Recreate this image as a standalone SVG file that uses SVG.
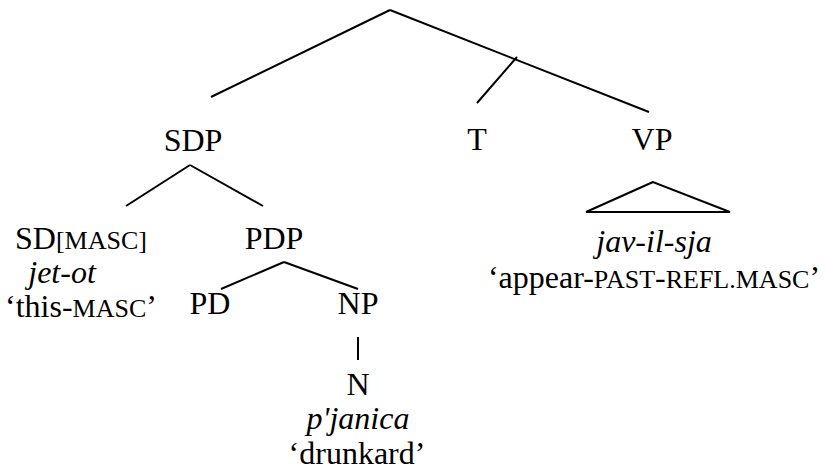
<svg xmlns="http://www.w3.org/2000/svg" width="826" height="475" viewBox="0 0 826 475">
<style>
.e{stroke:#000;stroke-width:2;fill:none}
.sc{font-size:26px}
</style>
<rect width="826" height="475" fill="#fff"/>
<g id="connectors">
<line class="e" x1="390" y1="10" x2="211" y2="97"/>
<line class="e" x1="390" y1="10" x2="649" y2="112"/>
<line class="e" x1="517" y1="57" x2="477" y2="103"/>
<line class="e" x1="190" y1="165" x2="126" y2="206"/>
<line class="e" x1="190" y1="165" x2="263" y2="206"/>
<line class="e" x1="284" y1="262" x2="221" y2="289"/>
<line class="e" x1="284" y1="262" x2="358" y2="289"/>
<line class="e" x1="358" y1="337" x2="358" y2="360"/>
<polygon class="e" points="653,182 586,212 730,212"/>
</g>
<g font-family="Liberation Serif, Times New Roman, serif" font-size="32" fill="#000">
<g id="SDP"><text x="193" y="151" text-anchor="middle">SDP</text></g>
<g id="T"><text x="477" y="150" text-anchor="middle">T</text></g>
<g id="VP"><text x="652" y="150" text-anchor="middle">VP</text>
<text font-style="italic" x="654" y="252" text-anchor="middle">jav-il-sja</text>
<text x="654" y="288" text-anchor="middle">‘appear-<tspan class="sc">PAST</tspan>-<tspan class="sc">REFL.MASC</tspan>’</text></g>
<g id="SD"><text x="15" y="249">SD<tspan class="sc">[MASC]</tspan></text>
<text font-style="italic" x="62" y="283" text-anchor="middle">jet-ot</text>
<text x="5" y="317">‘this-<tspan class="sc">MASC</tspan>’</text></g>
<g id="PDP"><text x="274" y="249" text-anchor="middle">PDP</text></g>
<g id="PD"><text x="210" y="314" text-anchor="middle">PD</text></g>
<g id="NP"><text x="358" y="314" text-anchor="middle">NP</text></g>
<g id="N"><text x="358" y="395" text-anchor="middle">N</text>
<text font-style="italic" x="358" y="429" text-anchor="middle">p'janica</text>
<text x="357" y="464" text-anchor="middle">‘drunkard’</text></g>
</g>
</svg>
